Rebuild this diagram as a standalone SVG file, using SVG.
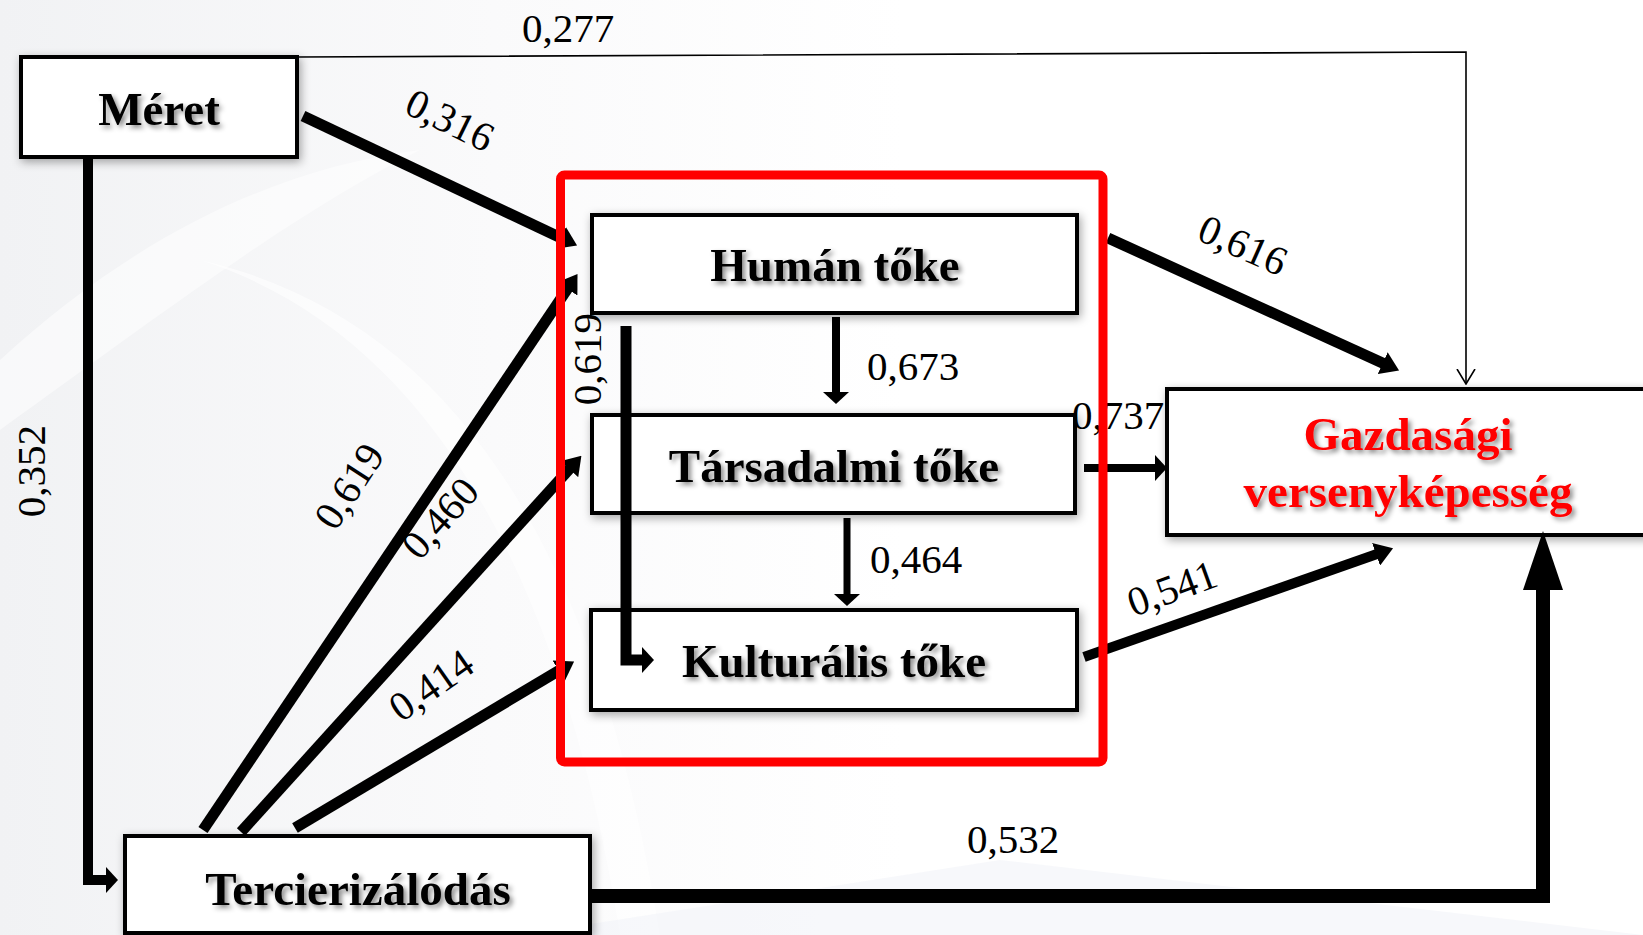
<svg xmlns="http://www.w3.org/2000/svg" width="1643" height="935" viewBox="0 0 1643 935">
<defs>
<style>
.box{fill:#ffffff;stroke:#000000;stroke-width:4;filter:url(#bshadow)}
.nt{font-family:"Liberation Serif","Times New Roman",serif;font-weight:bold;font-size:47px;text-anchor:middle;fill:#000000;filter:url(#tshadow)}
.red{fill:#ff0000}
.lb{font-family:"Liberation Serif","Times New Roman",serif;font-size:41px;text-anchor:middle;fill:#000000}
.c{fill:none;stroke:#000000;stroke-linejoin:miter;stroke-linecap:butt}
</style>
<filter id="bshadow" x="-10%" y="-20%" width="120%" height="140%">
<feDropShadow dx="2" dy="3" stdDeviation="5" flood-color="#000000" flood-opacity="0.35"/>
</filter>
<filter id="tshadow" x="-10%" y="-30%" width="120%" height="160%">
<feDropShadow dx="3" dy="3" stdDeviation="2.5" flood-color="#000000" flood-opacity="0.45"/>
</filter>
<linearGradient id="bg" x1="0" y1="0" x2="1" y2="0">
<stop offset="0" stop-color="#f1f2f4"/>
<stop offset="0.3" stop-color="#fafafb"/>
<stop offset="0.55" stop-color="#ffffff"/>
</linearGradient>
<marker id="arrD" markerUnits="userSpaceOnUse" viewBox="0 0 18 24" markerWidth="18" markerHeight="24" refX="1" refY="12" orient="auto">
<path d="M0,0 L18,12 L0,24 Z" fill="#000000"/>
</marker>
<marker id="arrS" markerUnits="userSpaceOnUse" viewBox="0 0 12 26" markerWidth="12" markerHeight="26" refX="1" refY="13" orient="auto">
<path d="M0,0 L12,13 L0,26 Z" fill="#000000"/>
</marker>
<marker id="arrB" markerUnits="userSpaceOnUse" viewBox="0 0 59 40" markerWidth="59" markerHeight="40" refX="1" refY="20" orient="auto">
<path d="M0,0 L59,20 L0,40 Z" fill="#000000"/>
</marker>
<marker id="arrO" markerUnits="userSpaceOnUse" viewBox="0 0 16 20" markerWidth="16" markerHeight="20" refX="15" refY="10" orient="auto">
<path d="M0,1 L15,10 L0,19" fill="none" stroke="#000000" stroke-width="1.6"/>
</marker>
</defs>

<rect x="0" y="0" width="1643" height="935" fill="url(#bg)"/>
<path d="M0,360 C120,250 260,170 420,150 C300,210 180,300 0,430 Z" fill="#ffffff" opacity="0.5"/>
<path d="M200,260 C420,330 560,560 620,935 L660,935 C600,560 460,320 200,260 Z" fill="#ffffff" opacity="0.6"/>
<path d="M520,935 L1000,860 L1643,935 Z" fill="#f1f4f8" opacity="0.6"/>

<g id="node-meret">
<rect class="box" x="21" y="57" width="276" height="100"/>
<text class="nt" x="159" y="125">Méret</text>
</g>
<g id="node-human">
<rect class="box" x="592" y="215" width="485" height="98"/>
<text class="nt" x="835" y="281">Humán tőke</text>
</g>
<g id="node-tarsadalmi">
<rect class="box" x="592" y="415" width="483" height="98"/>
<text class="nt" x="834" y="482">Társadalmi tőke</text>
</g>
<g id="node-kulturalis">
<rect class="box" x="591" y="610" width="486" height="100"/>
<text class="nt" x="834" y="677">Kulturális tőke</text>
</g>
<g id="node-tercier">
<rect class="box" x="125" y="836" width="465" height="97"/>
<text class="nt" x="358" y="905">Tercierizálódás</text>
</g>
<g id="node-gazdasagi">
<rect class="box" x="1167" y="389" width="500" height="146"/>
<text class="nt red" x="1408" y="450">Gazdasági</text>
<text class="nt red" x="1408" y="507">versenyképesség</text>
</g>

<g id="connectors">
<polyline class="c" points="297,57 1466,52 1466,384" stroke-width="1.6" marker-end="url(#arrO)"/>
<line class="c" x1="303" y1="116" x2="561.7" y2="238.3" stroke-width="11" marker-end="url(#arrD)"/>
<polyline class="c" points="88,159 88,880 107,880" stroke-width="10" marker-end="url(#arrS)"/>
<line class="c" x1="203" y1="830" x2="568" y2="288" stroke-width="11" marker-end="url(#arrD)"/>
<line class="c" x1="241" y1="832" x2="570" y2="468.4" stroke-width="11" marker-end="url(#arrD)"/>
<line class="c" x1="295" y1="828" x2="559.5" y2="670.2" stroke-width="11" marker-end="url(#arrD)"/>
<line class="c" x1="836" y1="317" x2="836" y2="393" stroke-width="8" marker-end="url(#arrS)"/>
<line class="c" x1="847" y1="518" x2="847" y2="595" stroke-width="7" marker-end="url(#arrS)"/>
<polyline class="c" points="626,326 626,660 643,660" stroke-width="11" marker-end="url(#arrS)"/>
<line class="c" x1="1108" y1="238" x2="1383.6" y2="363.5" stroke-width="11" marker-end="url(#arrD)"/>
<line class="c" x1="1084" y1="468" x2="1156" y2="468" stroke-width="8" marker-end="url(#arrS)"/>
<line class="c" x1="1084" y1="657" x2="1377" y2="554" stroke-width="10" marker-end="url(#arrD)"/>
<polyline class="c" points="591,896 1543,896 1543,589" stroke-width="14" marker-end="url(#arrB)"/>
</g>

<g id="labels">
<text class="lb" x="568" y="42">0,277</text>
<text class="lb" transform="translate(450,120) rotate(26)" x="0" y="14">0,316</text>
<text class="lb" transform="translate(31,471) rotate(-90)" x="0" y="14">0,352</text>
<text class="lb" transform="translate(349,486) rotate(-57)" x="0" y="14">0,619</text>
<text class="lb" transform="translate(440,518) rotate(-48)" x="0" y="14">0,460</text>
<text class="lb" transform="translate(431,685) rotate(-35)" x="0" y="14">0,414</text>
<text class="lb" transform="translate(587,359) rotate(-90)" x="0" y="14">0,619</text>
<text class="lb" x="913" y="380">0,673</text>
<text class="lb" x="916" y="573">0,464</text>
<text class="lb" transform="translate(1243,245) rotate(24)" x="0" y="14">0,616</text>
<text class="lb" x="1118" y="429">0,737</text>
<text class="lb" transform="translate(1172,588) rotate(-20)" x="0" y="14">0,541</text>
<text class="lb" x="1013" y="853">0,532</text>
</g>

<rect id="group-frame" x="560.5" y="175" width="542.5" height="587" rx="4" fill="none" stroke="#ff0000" stroke-width="9"/>
</svg>
